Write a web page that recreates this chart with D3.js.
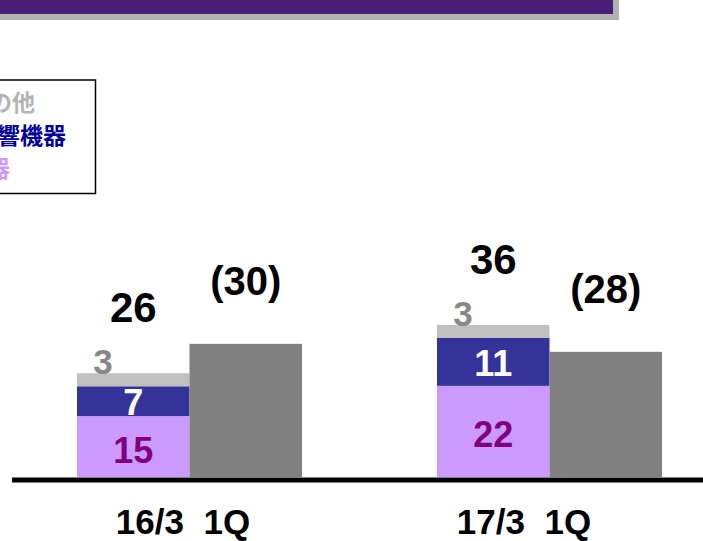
<!DOCTYPE html>
<html>
<head>
<meta charset="utf-8">
<script src="https://cdn.jsdelivr.net/npm/d3@7"></script>
<style>
  html, body { margin: 0; padding: 0; background: #fff; }
  svg { display: block; }
</style>
</head>
<body>
<script>
// ---- data ----
const categories = ["16/3  1Q", "17/3  1Q"];
const seriesNames = ["映像機器", "音響機器", "その他"];      // bottom -> top of stack
const videoValues = [14.5, 21.7];        // purple segment (label 15, 22)
const audioValues = [7.1, 11.4];         // navy segment (label 7, 11)
const otherValues = [3.1, 3.1];          // light gray segment (label 3, 3)
const prevYearValues = [31.7, 29.8];     // gray comparison bar
const videoLabels = ["15", "22"];
const audioLabels = ["7", "11"];
const otherLabels = ["3", "3"];
const totalLabels = ["26", "36"];
const prevYearLabels = ["(30)", "(28)"];

const W = 703, H = 541;
const colors = { video: "#CC99FF", audio: "#333399", other: "#C0C0C0", prev: "#808080" };
const numFont = "'Liberation Sans', Arial, sans-serif";
const jpFont = "'Noto Sans CJK JP', sans-serif";

const svg = d3.select("body").append("svg").attr("width", W).attr("height", H);

// ---- banner (cropped at top) ----
svg.append("rect").attr("x", -4).attr("y", -10).attr("width", 623).attr("height", 30).attr("fill", "#B2B2B2");
svg.append("rect").attr("x", -10).attr("y", -10).attr("width", 623).attr("height", 24).attr("fill", "#4A1E77");

// ---- legend (cropped at left) ----
const lg = svg.append("g");
lg.append("rect").attr("x", -20).attr("y", 80).attr("width", 115.5).attr("height", 113.5)
  .attr("fill", "#fff").attr("stroke", "#000").attr("stroke-width", 1.5);
const legendItems = [
  { name: seriesNames[2], color: "#B4B4B4", endX: 35, y: 111 },
  { name: seriesNames[1], color: "#000099", endX: 66, y: 144 },
  { name: seriesNames[0], color: "#CC99FF", endX: 10, y: 177 }
];
lg.selectAll("text").data(legendItems).join("text")
  .attr("x", d => d.endX).attr("y", d => d.y)
  .attr("text-anchor", "end")
  .attr("font-family", jpFont).attr("font-weight", "bold").attr("font-size", 23)
  .attr("fill", d => d.color).text(d => d.name);

// ---- scales ----
const x0 = d3.scaleBand().domain(categories).range([5, 734]).paddingInner(0.375).paddingOuter(0.2);
const x1 = d3.scaleBand().domain(["stack", "prev"]).range([0, x0.bandwidth()]);
const xLabel = d3.scalePoint().domain(categories).range([183, 524]);
const y = d3.scaleLinear().domain([0, 100]).range([477, 57]);

// stacked data
const rows = categories.map((c, i) => ({ cat: c, video: videoValues[i], audio: audioValues[i], other: otherValues[i] }));
const stack = d3.stack().keys(["video", "audio", "other"])(rows);

const g = svg.append("g");
stack.forEach(layer => {
  g.selectAll(null).data(layer).join("rect")
    .attr("x", d => x0(d.data.cat) + x1("stack"))
    .attr("width", x1.bandwidth())
    .attr("y", d => y(d[1]))
    .attr("height", d => y(d[0]) - y(d[1]))
    .attr("fill", colors[layer.key]);
});
// comparison bars
g.selectAll(null).data(categories).join("rect")
  .attr("x", d => x0(d) + x1("prev"))
  .attr("width", x1.bandwidth())
  .attr("y", (d, i) => y(prevYearValues[i]))
  .attr("height", (d, i) => y(0) - y(prevYearValues[i]))
  .attr("fill", colors.prev);

// ---- labels ----
function label(xv, yv, txt, size, color, anchor) {
  svg.append("text").attr("x", xv).attr("y", yv)
    .attr("text-anchor", anchor || "middle")
    .attr("font-family", numFont).attr("font-weight", "bold").attr("font-size", size)
    .attr("fill", color).text(txt);
}
categories.forEach((c, i) => {
  const sx = x0(c) + x1("stack"), cx = sx + x1.bandwidth() / 2;
  const px = x0(c) + x1("prev") + x1.bandwidth() / 2;
  const vTop = y(videoValues[i]);
  const aTop = y(videoValues[i] + audioValues[i]);
  const oTop = y(videoValues[i] + audioValues[i] + otherValues[i]);
  label(cx, (y(0) + vTop) / 2 + 16, videoLabels[i], 36, "#800080");
  label(cx, (vTop + aTop) / 2 + 14, audioLabels[i], 36, "#ffffff");
  label(sx + 26, oTop + 1, otherLabels[i], 35, "#888888");
  label(cx, oTop - 51, totalLabels[i], 42, "#000000");
  label(px, y(prevYearValues[i]) - 49, prevYearLabels[i], 40, "#000000");
  svg.append("text").attr("x", xLabel(c)).attr("y", 534)
    .attr("text-anchor", "middle").attr("xml:space", "preserve")
    .style("white-space", "pre")
    .attr("font-family", numFont).attr("font-weight", "bold").attr("font-size", 35).attr("fill", "#000")
    .text(c);
});

// ---- baseline ----
svg.append("line").attr("x1", 12).attr("x2", W).attr("y1", y(0) + 3).attr("y2", y(0) + 3)
  .attr("stroke", "#000").attr("stroke-width", 5);
</script>
</body>
</html>
